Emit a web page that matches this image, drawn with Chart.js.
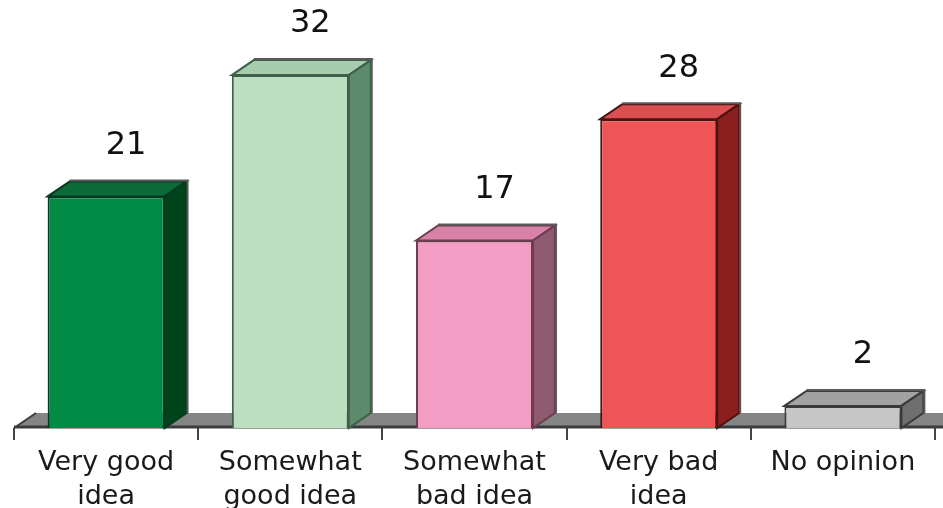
<!DOCTYPE html>
<html>
<head>
<meta charset="utf-8">
<script src="https://cdn.jsdelivr.net/npm/chart.js@4/dist/chart.umd.min.js"></script>
<style>
  html, body { margin: 0; padding: 0; background: #fff; }
  #wrap { width: 943px; height: 508px; }
</style>
</head>
<body>
<div id="wrap"><canvas id="c" width="943" height="508"></canvas></div>
<script>
// data
const categories = [['Very good', 'idea'], ['Somewhat', 'good idea'], ['Somewhat', 'bad idea'], ['Very bad', 'idea'], ['No opinion']];
const values = [21, 32, 17, 28, 2];

// colours: front, side, top
const frontColors = ['#008c45', '#bcdfbf', '#f39cc4', '#ef5556', '#c6c6c6'];
const sideColors = ['#00441c', '#5c8a6a', '#8e5a70', '#8b1f1e', '#6e6e6e'];
const topColors = ['#0a6a38', '#a6cdad', '#d882a8', '#dc4f50', '#a2a2a2'];
const edgeColors = ['#063a20', '#3f5f48', '#6a3d50', '#4a1414', '#3a3a3a'];

const DX = 22, DY = 15;
const FONT = '"DejaVu Sans", "Liberation Sans", Arial, sans-serif';

// floor under the bars + 3D faces + value labels
const threeD = {
  id: 'threeD',
  beforeDatasetsDraw(chart) {
    const { ctx, chartArea: a } = chart;
    const y0 = chart.scales.y.getPixelForValue(0);
    ctx.save();
    ctx.fillStyle = '#858585';
    ctx.beginPath();
    ctx.moveTo(a.left, y0);
    ctx.lineTo(chart.width + 10, y0);
    ctx.lineTo(chart.width + 10, y0 - DY);
    ctx.lineTo(a.left + DX, y0 - DY);
    ctx.closePath();
    ctx.fill();
    ctx.strokeStyle = '#3c3c3c';
    ctx.lineWidth = 2;
    ctx.beginPath();
    ctx.moveTo(a.left, y0);
    ctx.lineTo(a.left + DX, y0 - DY);
    ctx.stroke();
    ctx.lineWidth = 3;
    ctx.beginPath();
    ctx.moveTo(a.left, y0 - 1);
    ctx.lineTo(chart.width, y0 - 1);
    ctx.stroke();
    ctx.restore();
  },
  afterDatasetsDraw(chart) {
    const { ctx } = chart;
    const meta = chart.getDatasetMeta(0);
    ctx.save();
    meta.data.forEach((bar, i) => {
      const l = bar.x - bar.width / 2, r = bar.x + bar.width / 2;
      const t = bar.y, b = bar.base;
      // top face
      ctx.fillStyle = topColors[i];
      ctx.beginPath();
      ctx.moveTo(l, t);
      ctx.lineTo(l + DX, t - DY);
      ctx.lineTo(r + DX, t - DY);
      ctx.lineTo(r, t);
      ctx.closePath();
      ctx.fill();
      ctx.strokeStyle = edgeColors[i];
      ctx.lineWidth = 2;
      ctx.stroke();
      // side face
      ctx.fillStyle = sideColors[i];
      ctx.beginPath();
      ctx.moveTo(r, t);
      ctx.lineTo(r + DX, t - DY);
      ctx.lineTo(r + DX, b - DY);
      ctx.lineTo(r, b);
      ctx.closePath();
      ctx.fill();
      ctx.stroke();
      // outer shadow line
      ctx.strokeStyle = '#5a5a5a';
      ctx.beginPath();
      ctx.moveTo(l + DX, t - DY - 1);
      ctx.lineTo(r + DX + 1, t - DY - 1);
      ctx.lineTo(r + DX + 1, b - DY);
      ctx.stroke();
      // value label
      ctx.fillStyle = '#111';
      ctx.font = '32px ' + FONT;
      ctx.textAlign = 'center';
      ctx.textBaseline = 'middle';
      ctx.fillText(String(values[i]), bar.x + 20, t - 51);
    });
    ctx.restore();
  }
};

new Chart(document.getElementById('c'), {
  type: 'bar',
  data: {
    labels: categories,
    datasets: [{
      data: values,
      backgroundColor: frontColors,
      borderColor: edgeColors,
      borderWidth: 2,
      categoryPercentage: 1,
      barPercentage: 0.635
    }]
  },
  options: {
    responsive: false,
    animation: false,
    layout: { padding: { left: 14, right: 8, top: 42, bottom: 0 } },
    plugins: { legend: { display: false }, tooltip: { enabled: false } },
    scales: {
      y: { display: false, min: 0, max: 35 },
      x: {
        afterFit(scale) { scale.height = 80; },
        grid: { display: true, drawOnChartArea: false, offset: true, tickLength: 12, color: '#444', lineWidth: 2 },
        border: { display: false },
        ticks: {
          autoSkip: false, maxRotation: 0, padding: 6,
          color: '#1a1a1a',
          font: { family: FONT, size: 27, lineHeight: 1.26 }
        }
      }
    }
  },
  plugins: [threeD]
});
</script>
</body>
</html>
